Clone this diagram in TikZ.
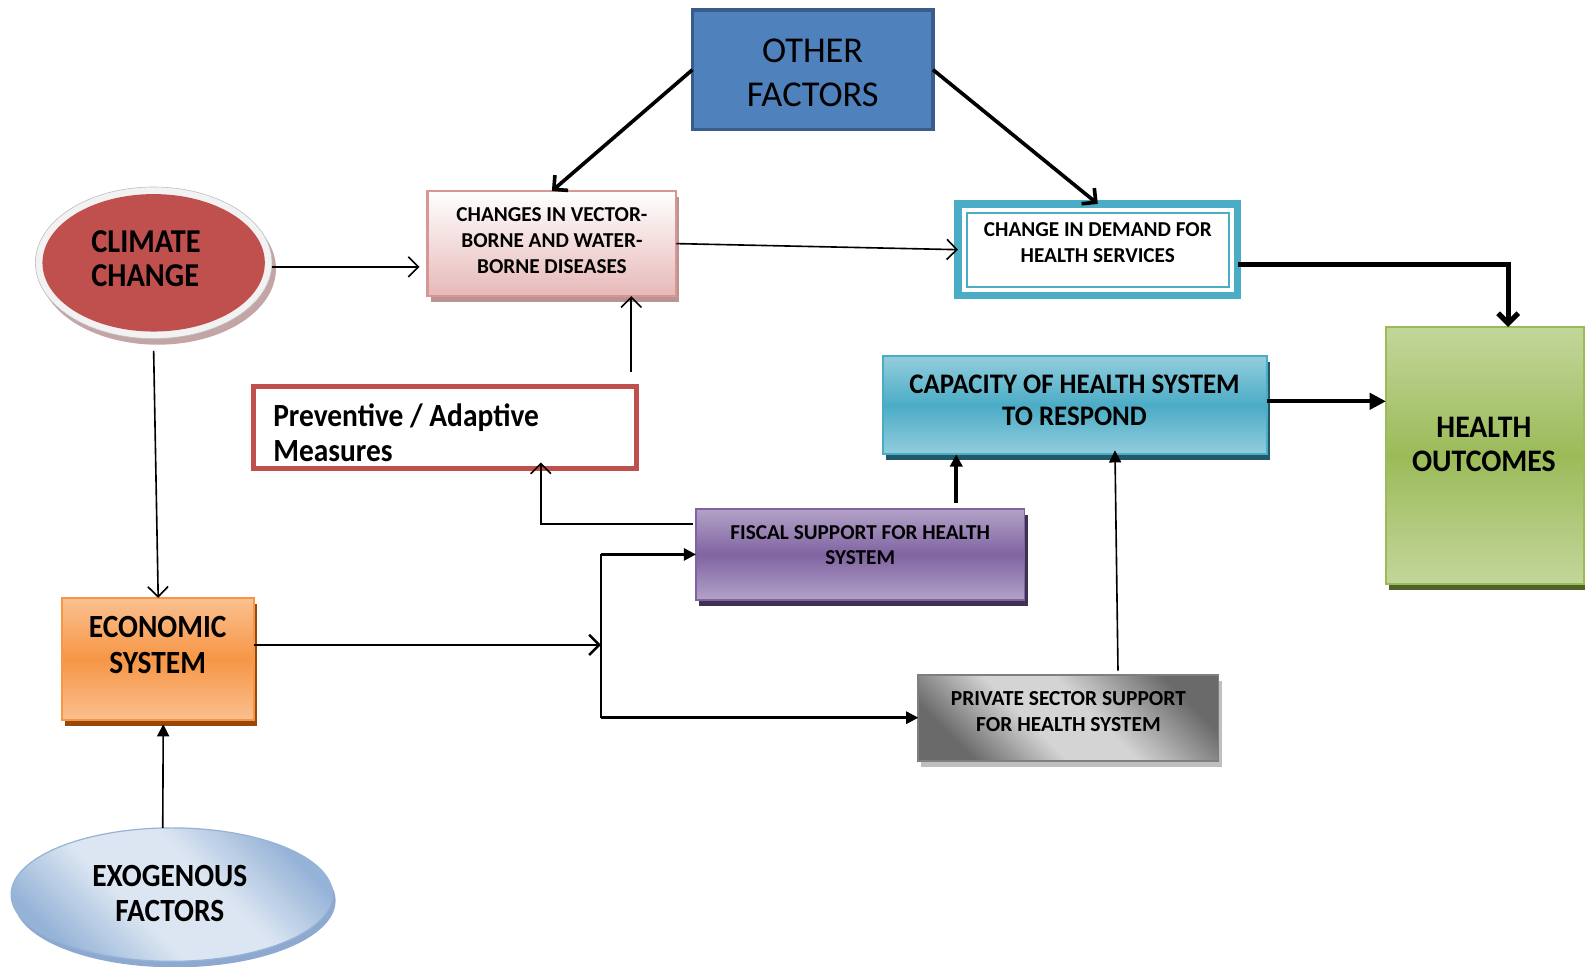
\documentclass[tikz,border=0pt]{standalone}
\usepackage{fontspec}
\setmainfont{Carlito}
\newfontfamily\cfont[FakeStretch=0.91]{Carlito}
\newfontfamily\dfont[FakeStretch=0.95]{Carlito}
\usetikzlibrary{arrows.meta,shadows,calc,shapes.geometric}
\definecolor{ofc}{HTML}{4F81BD}
\definecolor{ofb}{HTML}{385D8A}
\definecolor{ccred}{HTML}{C0504D}
\definecolor{ccrim}{HTML}{F2F2F2}
\definecolor{ccsh}{HTML}{C4A5A5}
\definecolor{cvb}{HTML}{D99694}
\definecolor{cvl}{HTML}{E6B9B8}
\definecolor{cvsh}{HTML}{B89593}
\definecolor{teal}{HTML}{4BACC6}
\definecolor{teall}{HTML}{93CDDD}
\definecolor{tealsh}{HTML}{215968}
\definecolor{grn}{HTML}{9BBB59}
\definecolor{grnl}{HTML}{C3D69B}
\definecolor{grnsh}{HTML}{4F6228}
\definecolor{pur}{HTML}{8064A2}
\definecolor{purl}{HTML}{B3A2C7}
\definecolor{pursh}{HTML}{3F3151}
\definecolor{org}{HTML}{F79646}
\definecolor{orgl}{HTML}{FAC090}
\definecolor{orgsh}{HTML}{984807}
\definecolor{gyd}{HTML}{6A6A6A}
\definecolor{gyl}{HTML}{D4D4D4}
\definecolor{gyb}{HTML}{7F7F7F}
\definecolor{gysh}{HTML}{BFBFBF}
\definecolor{exl}{HTML}{DCE6F2}
\definecolor{exd}{HTML}{95B3D7}
\definecolor{exsh}{HTML}{8EA9CF}
\pgfdeclarehorizontalshading{privshade}{100bp}{color(0bp)=(gyd); color(25bp)=(gyd); color(42bp)=(gyl); color(55bp)=(gyl); color(75bp)=(gyd); color(100bp)=(gyd)}
\pgfdeclarehorizontalshading{exshade}{100bp}{color(0bp)=(exd); color(25bp)=(exd); color(42bp)=(exl); color(58bp)=(exl); color(75bp)=(exd); color(100bp)=(exd)}
\begin{document}
\begin{tikzpicture}[x=0.5pt,y=-0.5pt,
  box/.style={draw, rectangle, inner sep=0pt, outer sep=0pt},
  ell/.style={draw, ellipse, inner sep=0pt, outer sep=0pt},
  lbl/.style={font=\bfseries, align=center, inner sep=0pt},
  lwa/.style={line width=0.8pt},
  lwb/.style={line width=1.2pt},
  lwc/.style={line width=1.8pt},
  lwd/.style={line width=2.6pt},
  barb/.style={-{Straight Barb[length=5pt,width=10pt]}},
  tri/.style={-{Triangle[length=6pt,width=6pt]}},
  bigtri/.style={-{Triangle[length=8pt,width=8pt]}},
  shad/.style={drop shadow={shadow xshift=1.5pt, shadow yshift=-3pt, fill=#1, opacity=1}}
]
\useasboundingbox (0,0) rectangle (1568,956);

% ---- shapes ----
\node[box, draw=ofb, line width=1.75pt, fill=ofc, minimum width=119pt, minimum height=59pt] (of) at (804,69) {};

\node[ell, draw=none, fill=ccsh, minimum width=117pt, minimum height=75pt] (ccs) at (156,266) {};
\node[ell, draw=gysh, line width=0.3pt, fill=ccrim, minimum width=117pt, minimum height=75pt] (cc) at (152,260) {};
\node[ell, draw=none, fill=ccred, minimum width=110pt, minimum height=68pt] (ccin) at (152,260) {};

\node[box, draw=cvb, line width=1.2pt, top color=white, bottom color=cvl, shad=cvsh, minimum width=123pt, minimum height=52pt] (cv) at (546,241) {};

\node[box, draw=teal, line width=3.75pt, fill=white, minimum width=138.25pt, minimum height=45.25pt] (d) at (1086,247) {};
\draw[draw=teal, line width=1pt] ($(d.north west)+(8.5,8.5)$) rectangle ($(d.south east)+(-8.5,-8.5)$);

\node[box, draw=teal, line width=0.9pt, top color=teall, bottom color=teall, middle color=teal, shad=tealsh, minimum width=190pt, minimum height=48.5pt] (cap) at (1063.5,401) {};

\node[box, draw=grn, line width=0.9pt, top color=grnl, bottom color=grnl, middle color=grn, shad=grnsh, minimum width=98pt, minimum height=127pt] (ho) at (1469,450.5) {};

\node[box, draw=ccred, line width=2.5pt, fill=white, minimum width=189.5pt, minimum height=40.5pt] (pr) at (440,423) {};

\node[box, draw=pur, line width=0.9pt, top color=purl, bottom color=purl, middle color=pur, shad=pursh, minimum width=162.5pt, minimum height=45pt] (fs) at (851,548.5) {};

\node[box, draw=org, line width=0.9pt, top color=orgl, bottom color=orgl, middle color=org, shad=orgsh, minimum width=95pt, minimum height=60.5pt] (ec) at (156.5,652) {};

\node[box, draw=gyb, line width=0.9pt, shading=privshade, shading angle=45, shad=gysh, minimum width=148.5pt, minimum height=42.5pt] (ps) at (1057,710) {};

\node[ell, draw=exd, line width=0.6pt, shading=exshade, shading angle=45, shad=exsh, minimum width=159pt, minimum height=66pt] (ex) at (170,885) {};

% ---- texts ----
\node[inner sep=0pt, align=center, font=\fontsize{18}{22}\selectfont] (oft) at (804,72) {OTHER\\FACTORS};
\node[lbl, align=left, anchor=west, font=\cfont\bfseries\fontsize{16.5}{17}\selectfont] (cct) at (90,256) {CLIMATE\\CHANGE};
\node[lbl, font=\bfseries\fontsize{10.5}{13}\selectfont] (cvt) at (546,238) {CHANGES IN VECTOR-\\BORNE AND WATER-\\BORNE DISEASES};
\node[lbl, font=\bfseries\fontsize{10.5}{12.5}\selectfont] (dt) at (1086,240) {CHANGE IN DEMAND FOR\\HEALTH SERVICES};
\node[lbl, font=\dfont\bfseries\fontsize{14}{15.5}\selectfont] (capt) at (1063,396) {CAPACITY OF HEALTH SYSTEM\\TO RESPOND};
\node[lbl, font=\dfont\bfseries\fontsize{15.5}{17}\selectfont] (hot) at (1468,440) {HEALTH\\OUTCOMES};
\node[lbl, align=left, anchor=west, font=\cfont\bfseries\fontsize{16}{17.5}\selectfont] (prt) at (270,428) {Preventive / Adaptive\\Measures};
\node[lbl, font=\bfseries\fontsize{10.5}{12.5}\selectfont] (fst) at (851,539) {FISCAL SUPPORT FOR HEALTH\\SYSTEM};
\node[lbl, font=\cfont\bfseries\fontsize{16}{17.5}\selectfont] (ect) at (156,638) {ECONOMIC\\SYSTEM};
\node[lbl, font=\bfseries\fontsize{10.6}{13}\selectfont] (pst) at (1057,704) {PRIVATE SECTOR SUPPORT\\FOR HEALTH SYSTEM};
\node[lbl, font=\cfont\bfseries\fontsize{16}{17.5}\selectfont] (ext) at (168,884) {EXOGENOUS\\FACTORS};

% ---- connectors ----
\draw[lwc, barb] (of.west) -- (cv.north);
\draw[lwc, barb] (of.east) -- (d.north);
\draw[lwa, barb] ($(cc.east)+(0,4)$) -- ($(cc.east -| cv.west)+(-8,4)$);
\draw[lwa, barb] (cv.east) -- (d.west);
\draw[lwd, barb] ($(d.east)+(0,15)$) -| ($(ho.north)+(23,0)$);
\draw[lwc, bigtri] ($(cap.east)+(0,-4)$) -- ($(cap.east -| ho.west)+(0,-4)$);
\coordinate (p1) at ($(pr.north east)+(-5,-14)$);
\draw[lwa, barb] (p1) -- (p1 |- cv.south);
\draw[lwa, barb] ($(fs.north west)+(-3,15)$) -| ($(pr.south)+(95,-6)$);
\coordinate (p2) at ($(fs.north)+(95,-6)$);
\draw[lwc, tri] (p2) -- (p2 |- cap.south);
\draw[lwa, tri] ($(ps.north)+(49,-4)$) -- ($(cap.south)+(39.5,-4)$);
\draw[lwa, barb] ($(cc.south)+(0,12)$) -- (ec.north);
\draw[lwa, tri] ($(ex.north)+(-9,0)$) -- ($(ec.south)+(5,4)$);
\coordinate (j) at ($(ec.east)+(343,-14)$);
\coordinate (jt) at (j |- fs.west);
\coordinate (jb) at (j |- ps.west);
\draw[lwb, barb] ($(ec.east)+(0,-14)$) -- (j);
\draw[lwa] (jt) -- (jb);
\draw[lwb, tri] (jt) -- (fs.west);
\draw[lwb, tri] (jb) -- (ps.west);
\end{tikzpicture}
\end{document}
